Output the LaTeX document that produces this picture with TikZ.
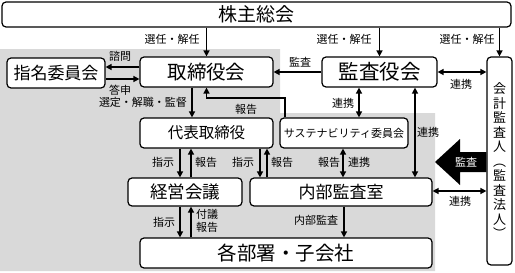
\documentclass[tikz,border=0pt]{standalone}
\usepackage{fontspec}
\setmainfont{Noto Sans CJK JP}
\usetikzlibrary{arrows.meta}
\newcommand{\fsz}[1]{\fontsize{#1}{#1}\selectfont}
\definecolor{graybg}{HTML}{D9D9D9}
\tikzset{
  box/.style={draw, line width=1.2pt, rounded corners=4pt, fill=white, inner sep=0pt},
  arr/.style={line width=1.4pt, -{Triangle[length=6pt,width=6pt]}},
  darr/.style={line width=1.4pt, {Triangle[length=6pt,width=6pt]}-{Triangle[length=6pt,width=6pt]}},
  lab/.style={font=\fsz{11}, inner sep=0pt},
}
\begin{document}
\begin{tikzpicture}[x=1pt,y=-1pt]
\fill[white] (0,0) rectangle (515,273);
\useasboundingbox (0,0) rectangle (515,273);
\fill[graybg] (0,49) -- (280,49) -- (280,113) -- (435,113) -- (435,271) -- (0,271) -- cycle;

% nodes
\node[box, minimum width=509pt, minimum height=25pt, font=\fsz{19}] (kabu) at (256.5,14.5) {株主総会};
\node[box, minimum width=98pt, minimum height=30pt, font=\fsz{17}] (shimei) at (56,73) {指名委員会};
\node[box, minimum width=133pt, minimum height=30pt, font=\fsz{19.5}] (board) at (206.5,72) {取締役会};
\node[box, minimum width=115pt, minimum height=30pt, font=\fsz{20.5}] (kansa) at (379.5,72) {監査役会};
\node[box, minimum width=25pt, minimum height=208pt, font=\fontsize{13}{14.5}\selectfont, align=center] (kaikei) at (499.5,161) {会\\計\\監\\査\\人\\︵\\監\\査\\法\\人\\︶};
\node[box, minimum width=133pt, minimum height=30pt, font=\fsz{15.5}] (daihyo) at (206.5,133) {代表取締役};
\node[box, minimum width=128pt, minimum height=30pt, font=\fsz{11}] (sustain) at (344,133) {サステナビリティ委員会};
\node[box, minimum width=114pt, minimum height=28pt, font=\fsz{17.5}] (keiei) at (185,192) {経営会議};
\node[box, minimum width=182pt, minimum height=28pt, font=\fsz{17}] (naibu) at (341,192) {内部監査室};
\node[box, minimum width=292pt, minimum height=30pt, font=\fsz{19.5}] (kakubu) at (286,253) {各部署・子会社};

% connectors
\draw[arr] (kabu.south -| board.north) -- (board.north);
\draw[arr] (kabu.south -| kansa.north) -- (kansa.north);
\draw[arr] (kabu.south -| kaikei.north) -- (kaikei.north);
\draw[arr] (board.west |- 0,67) -- (shimei.east |- 0,67);
\draw[arr] (shimei.east |- 0,79) -- (board.west |- 0,79);
\draw[arr] (board.south -| 192,0) -- (daihyo.north -| 192,0);
\draw[arr] (sustain.north -| 285,0) -- (285,98) -- (board.south |- 0,98) -- (board.south);
\draw[arr] (kansa.west) -- (board.east);
\draw[darr] (kansa.east) -- (kaikei.west |- kansa.east);
\draw[darr] (kansa.south -| 359,0) -- (sustain.north -| 359,0);
\draw[darr] (kansa.south -| 415,0) -- (naibu.north -| 415,0);
\draw[arr] (daihyo.south -| 180,0) -- (keiei.north -| 180,0);
\draw[arr] (keiei.north -| 191,0) -- (daihyo.south -| 191,0);
\draw[arr] (daihyo.south -| 260,0) -- (naibu.north -| 260,0);
\draw[arr] (naibu.north -| 267,0) -- (daihyo.south -| 267,0);
\draw[darr] (sustain.south -| 343,0) -- (naibu.north -| 343,0);
\draw[arr] (keiei.south -| 180,0) -- (kakubu.north -| 180,0);
\draw[arr] (kakubu.north -| 191,0) -- (keiei.south -| 191,0);
\draw[arr] (naibu.south -| 344,0) -- (kakubu.north -| 344,0);
\draw[darr] (naibu.east |- 0,191) -- (kaikei.west |- 0,191);

% big audit arrow
\fill[black] (kaikei.west |- 0,152) -- (460,152) -- (460,139) -- (435,162) -- (460,185) -- (460,172) -- (kaikei.west |- 0,172) -- cycle;
\node[lab, text=white] (lkansa2) at (466,162) {監査};

% labels
\node[lab] (l1) at (172,39) {選任・解任};
\node[lab] (l2) at (344,39) {選任・解任};
\node[lab] (l3) at (467,39) {選任・解任};
\node[lab] (l4) at (120,56) {諮問};
\node[lab] (l5) at (120,90) {答申};
\node[lab] (l6) at (143,102) {選定・解職・監督};
\node[lab] (l7) at (246,109) {報告};
\node[lab] (l8) at (300,62) {監査};
\node[lab] (l9) at (461,84) {連携};
\node[lab] (l10) at (343,103) {連携};
\node[lab] (l11) at (428,132) {連携};
\node[lab] (l12) at (163,162) {指示};
\node[lab] (l13) at (206,162) {報告};
\node[lab] (l14) at (243,162) {指示};
\node[lab] (l15) at (282,162) {報告};
\node[lab] (l16) at (329,162) {報告};
\node[lab] (l17) at (359,162) {連携};
\node[lab] (l18) at (164,222) {指示};
\node[lab, align=left, font=\fontsize{11}{13}\selectfont] (l19) at (207,221) {付議\\報告};
\node[lab] (l20) at (316,220) {内部監査};
\node[lab] (l21) at (460,201) {連携};
\end{tikzpicture}
\end{document}
